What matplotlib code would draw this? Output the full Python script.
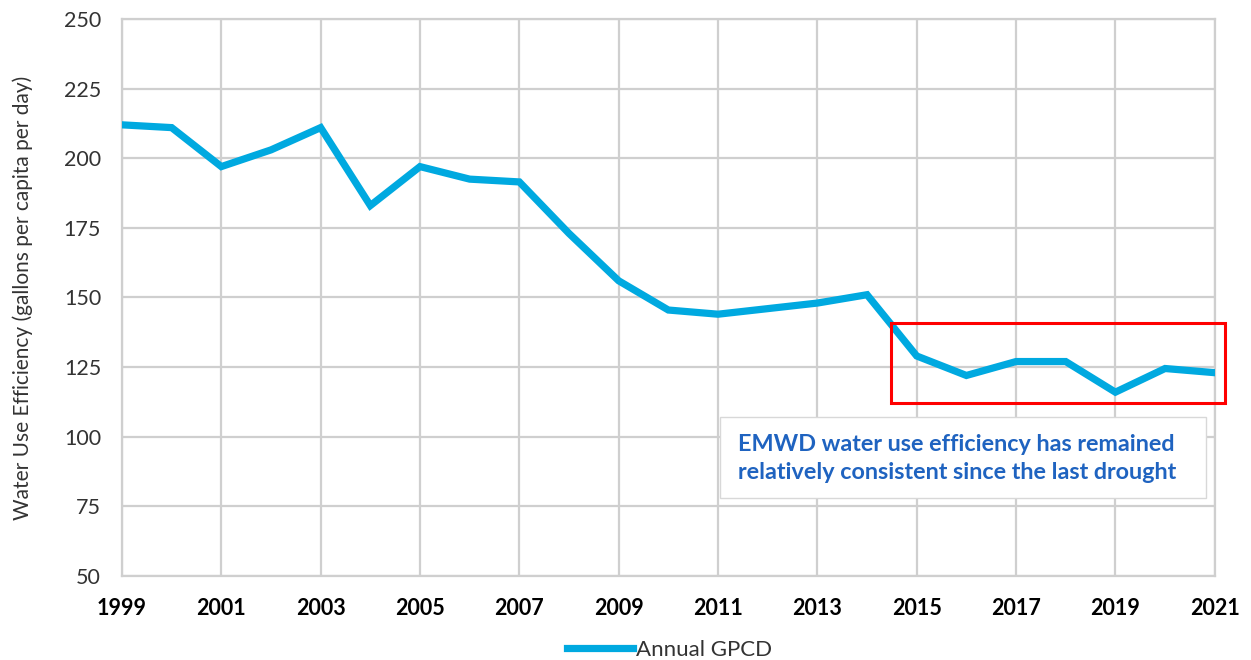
import matplotlib
matplotlib.use("Agg")
import matplotlib.pyplot as plt
from matplotlib.patches import Rectangle

years = list(range(1999, 2022))
gpcd = [212, 211, 197, 203, 211, 183, 197, 192.5, 191.5, 173, 156, 145.5, 144,
        146, 148, 151, 129, 122, 127, 127, 116, 124.5, 123]
year_ticks = list(range(1999, 2022, 2))
y_ticks = list(range(50, 251, 25))

plt.rcParams['font.family'] = ['Lato', 'DejaVu Sans']

fig = plt.figure(figsize=(12.51, 6.6), dpi=100)
ax = fig.add_axes([0.0975, 0.1273, 0.8735, 0.8439])

ax.plot(years, gpcd, color='#00A9E0', lw=5.2, solid_joinstyle='miter',
        label='Annual GPCD', zorder=4)

ax.set_xlim(1999, 2021)
ax.set_ylim(50, 250)
ax.set_xticks(year_ticks)
ax.set_yticks(y_ticks)
ax.tick_params(axis='x', length=0, pad=16)
ax.tick_params(axis='y', length=0, pad=15)
for lab in ax.get_xticklabels():
    lab.set_fontweight('bold')
    lab.set_fontsize(15.5)
for lab in ax.get_yticklabels():
    lab.set_fontsize(15.5)
    lab.set_color('#333333')
ax.grid(True, color='#CFCFCF', lw=1.6)
for s in ax.spines.values():
    s.set_color('#CFCFCF')
    s.set_linewidth(1.6)

ax.set_ylabel('Water Use Efficiency (gallons per capita per day)',
              fontsize=15, color='#333333', labelpad=22)

# note box
ax.add_patch(Rectangle((2011.03, 78), 9.8, 29.1, facecolor='white',
                       edgecolor='#D8D8D8', lw=1, zorder=3))
ax.text(2011.4, 92.2, 'EMWD water use efficiency has remained\n'
        'relatively consistent since the last drought',
        color='#1F63C0', fontsize=16.8, fontweight='bold', va='center',
        ha='left', linespacing=1.45, zorder=5)

# highlight box
ax.add_patch(Rectangle((2014.48, 112.1), 6.72, 28.7, facecolor='none',
                       edgecolor='#FF0000', lw=2.2, clip_on=False, zorder=6))

fig.legend(loc='lower center', bbox_to_anchor=(0.535, -0.03), frameon=False,
           fontsize=16, handlelength=3.0, handletextpad=0.1,
           labelcolor='#333333')

fig.savefig('out.png', dpi=100)
